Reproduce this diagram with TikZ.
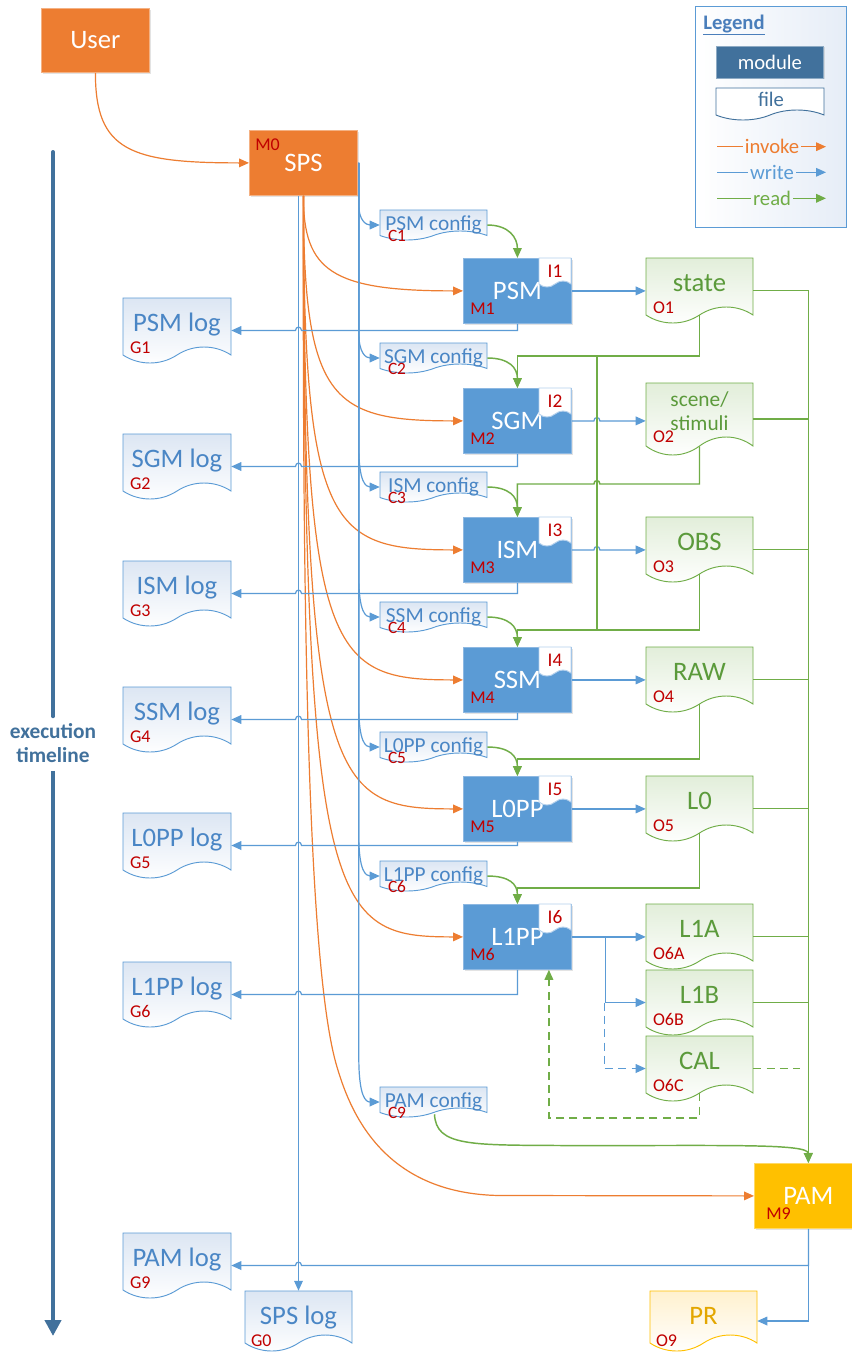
\documentclass[tikz,border=0pt]{standalone}
\usepackage{fontspec}
\setmainfont{Carlito}
\usetikzlibrary{arrows.meta,calc,fit,shadows}
\definecolor{cOrange}{HTML}{ED7D31}
\definecolor{cBlue}{HTML}{5B9BD5}
\definecolor{cBlueB}{HTML}{8DB8E2}
\definecolor{cDark}{HTML}{41719C}
\definecolor{cGreen}{HTML}{70AD47}
\definecolor{cGreenTxt}{HTML}{5B9A3B}
\definecolor{cLogTxt}{HTML}{4A86C5}
\definecolor{cRed}{HTML}{C00000}
\definecolor{cGold}{HTML}{FFC000}
\definecolor{cGoldTxt}{HTML}{E3A600}
\definecolor{cTintB}{HTML}{DCE6F3}
\definecolor{cTintG}{HTML}{E2EEDA}
\definecolor{cTintY}{HTML}{FFF1CF}
\definecolor{cLegBg}{HTML}{E6EDF7}
\definecolor{cTagB}{HTML}{B4D0EC}
\definecolor{cLegTxt}{HTML}{4A7EBB}

% #1 name, #2 x0, #3 y0, #4 w, #5 h, #6 wave amplitude, #7 tint, #8 border
\newcommand\docnode[8]{%
  \shadedraw[top color=#7, bottom color=white, draw=#8, line width=0.7pt]
   (#2,#3) -- ({#2+#4},#3) -- ({#2+#4},{#3+#5-#6})
   .. controls ({#2+0.85*#4},{#3+#5-2.333*#6}) and ({#2+0.65*#4},{#3+#5-2.333*#6}) .. ({#2+0.5*#4},{#3+#5-#6})
   .. controls ({#2+0.35*#4},{#3+#5+0.333*#6}) and ({#2+0.15*#4},{#3+#5+0.333*#6}) .. (#2,{#3+#5-#6}) -- cycle;
  \node[fit={(#2,#3) ({#2+#4},{#3+#5})}, inner sep=0pt] (#1) {};}

\begin{document}
\begin{tikzpicture}[x=0.75pt,y=-0.75pt,
  >={Triangle[length=7.5pt,width=6.5pt]},
  modbox/.style={rectangle, fill=cBlue, draw=cBlueB, line width=0.6pt, text=white,
    font=\fontsize{20}{24}\selectfont, minimum width=81pt, minimum height=48.75pt,
    inner sep=0pt, anchor=north west,
    drop shadow={opacity=0.22, shadow xshift=0.9pt, shadow yshift=-0.9pt}},
  redlbl/.style={text=cRed, font=\fontsize{13.5}{15}\selectfont, inner sep=0pt},
  clbl/.style={text=cRed, font=\fontsize{13}{15}\selectfont, inner sep=0pt},
  taglbl/.style={text=cRed, font=\fontsize{14.5}{16}\selectfont, inner sep=0pt},
  logtxt/.style={text=cLogTxt, font=\fontsize{20}{24}\selectfont, inner sep=0pt, anchor=base},
  cfgtxt/.style={text=cLogTxt, font=\fontsize{16}{19}\selectfont, inner sep=0pt, anchor=base},
  outtxt/.style={text=cGreenTxt, font=\fontsize{20}{24}\selectfont, inner sep=0pt, anchor=base},
  legtxt/.style={font=\fontsize{15.5}{18}\selectfont, inner sep=1.5pt},
  invk/.style={draw=cOrange, line width=0.9pt, ->},
  wrt/.style={draw=cBlue, line width=0.9pt, ->},
  rd/.style={draw=cGreen, line width=1.1pt, ->},
  dsh/.style={dash pattern=on 6pt off 4pt}
]
\useasboundingbox (0,0) rectangle (852,1356);
\fill[white] (0,0) rectangle (852,1356);

% ---------- legend ----------
\node[draw=cBlue, line width=0.8pt, left color=white, right color=cLegBg,
  minimum width=113.25pt, minimum height=165.75pt, anchor=north west, inner sep=0pt] (legend) at (695,6) {};
\node[text=cLegTxt, font=\bfseries\fontsize{15.5}{18}\selectfont, anchor=base, inner sep=0pt] (legtitle) at (734,29.3) {\underline{Legend}};
\node[rectangle, fill=cDark, draw=cDark!60!white, line width=0.6pt, text=white, font=\fontsize{15.5}{18}\selectfont,
  minimum width=80.25pt, minimum height=24pt, anchor=north west, inner sep=0pt,
  drop shadow={opacity=0.22, shadow xshift=0.9pt, shadow yshift=-0.9pt}] (legmod) at (716,45.5) {module};
\docnode{legfile}{716}{88}{108}{32}{5}{white}{cDark}
\node[text=cDark, font=\fontsize{15.5}{18}\selectfont, anchor=base, inner sep=0pt] at (771,106) {file};
\node[legtxt, text=cOrange] (linv) at (772,146.7) {invoke};
\node[legtxt, text=cBlue] (lwrt) at (772,172.3) {write};
\node[legtxt, text=cGreen] (lrd) at (772,198.3) {read};
\coordinate (li0) at (717,146.7); \coordinate (li1) at (826,146.7);
\coordinate (lw0) at (717,172.3); \coordinate (lw1) at (826,172.3);
\coordinate (lr0) at (717,198.3); \coordinate (lr1) at (826,198.3);
\draw[invk,-] (li0) -- (linv.west); \draw[invk] (linv.east) -- (li1);
\draw[wrt,-] (lw0) -- (lwrt.west); \draw[wrt] (lwrt.east) -- (lw1);
\draw[rd,-] (lr0) -- (lrd.west); \draw[rd] (lrd.east) -- (lr1);

% ---------- timeline ----------
\node[font=\bfseries\fontsize{16}{18}\selectfont, text=cDark, align=center, inner sep=0pt, minimum height=40.5pt] (tl) at (53,743.5) {execution\\timeline};
\coordinate (tltop) at (53,152); \coordinate (tlbot) at (53,1336);
\draw[cDark, line width=3pt, line cap=round] (tltop) -- (tl.north);
\draw[cDark, line width=3pt, -{Triangle[length=12pt,width=12pt]}] (tl.south) -- (tlbot);

% ---------- User, SPS, PAM ----------
\node[modbox, fill=cOrange, draw=cOrange!60!white, minimum height=48pt] (User) at (41,8) {User};
\node[modbox, fill=cOrange, draw=cOrange!60!white] (SPS) at (249,130) {SPS};
\node[redlbl, anchor=base west] at ($(SPS.north west)+(6,20)$) {M0};
\node[modbox, fill=cGold, draw=cGold!60!white] (PAM) at (754,1163) {PAM};
\node[redlbl, anchor=base west] at ($(PAM.north west)+(12,56)$) {M9};

% ---------- modules ----------
\foreach \n/\nm/\y in {1/PSM/258,2/SGM/388,3/ISM/517,4/SSM/647,5/L0PP/776,6/L1PP/904}{
  \node[modbox] (M\n) at (463,\y) {\nm};
  \node[redlbl, anchor=base west] at ($(M\n.north west)+(7,56)$) {M\n};
  \docnode{I\n}{539}{\y}{32}{29}{3}{white}{cTagB}
  \node[taglbl, anchor=base] at ($(I\n.north)+(0,19.7)$) {I\n};
}

% ---------- configs ----------
\foreach \n/\nm/\y in {1/PSM/210,2/SGM/343,3/ISM/472,4/SSM/602,5/L0PP/732,6/L1PP/861,9/PAM/1087}{
  \docnode{C\n}{380}{\y}{107}{30}{4.5}{cTintB}{cBlue}
  \node[cfgtxt] at ($(C\n.north)+(0,21.2)$) {\nm\ config};
  \node[clbl, anchor=base west] at ($(C\n.north west)+(8,32)$) {C\n};
}

% ---------- logs ----------
\foreach \n/\nm/\y in {1/PSM/298,2/SGM/434,3/ISM/561,4/SSM/687,5/L0PP/813,6/L1PP/962,9/PAM/1233}{
  \docnode{G\n}{123}{\y}{108}{65}{8}{cTintB}{cBlue}
  \node[logtxt] at ($(G\n.north)+(0,34)$) {\nm\ log};
  \node[redlbl, anchor=base west] at ($(G\n.north west)+(7,56)$) {G\n};
}
\docnode{G0}{245}{1291}{107}{60}{8}{cTintB}{cBlue}
\node[logtxt] at ($(G0.north)+(0,34)$) {SPS log};
\node[redlbl, anchor=base west] at ($(G0.north west)+(6,55.7)$) {G0};

% ---------- outputs ----------
\foreach \n/\nm/\y in {1/state/258,3/OBS/517,4/RAW/647,5/L0/776,6A/L1A/904,6B/L1B/970,6C/CAL/1036}{
  \docnode{O\n}{646}{\y}{107}{65}{8}{cTintG}{cGreen}
  \node[outtxt] at ($(O\n.north)+(0,34)$) {\nm};
  \node[redlbl, anchor=base west] at ($(O\n.north west)+(7,55.5)$) {O\n};
}
\docnode{O2}{646}{383}{107}{72}{9}{cTintG}{cGreen}
\node[outtxt, font=\fontsize{16}{19}\selectfont] at ($(O2.north)+(0,23.7)$) {scene/};
\node[outtxt, font=\fontsize{16}{19}\selectfont] at ($(O2.north)+(0,47.7)$) {stimuli};
\node[redlbl, anchor=base west] at ($(O2.north west)+(7,59.7)$) {O2};
\docnode{O9}{650}{1291}{107}{60}{8}{cTintY}{cGold}
\node[logtxt, text=cGoldTxt] at ($(O9.north)+(0,34)$) {PR};
\node[redlbl, anchor=base west] at ($(O9.north west)+(6,55.7)$) {O9};

% ---------- invoke connectors ----------
\draw[invk] (User.south) .. controls ($(User.south)+(0,78)$) and ($(SPS.west)+(-119,0)$) .. (SPS.west);
\foreach \n in {1,...,6}{
  \draw[invk] (SPS.south) .. controls ($(SPS.south |- M\n.west)+(0,-20)$) and ($(SPS.south |- M\n.west)+(28,0)$) .. (M\n.west);
}
\draw[invk] (SPS.south) .. controls (302.5,600) and (307,967) .. (337,1067)
   .. controls (349,1107) and (380,1194) .. (500,1195.5) -- (PAM.west);

% ---------- write connectors ----------
\foreach \cc/\dd in {C1/20,C2/25,C3/40,C4/40,C5/40,C6/40,C9/45}{
  \draw[wrt] ($(SPS.east)+(1,0)$) -- ($(SPS.east |- \cc.west)+(1,-\dd)$)
    .. controls ($(SPS.east |- \cc.west)+(1,-5)$) and ($(SPS.east |- \cc.west)+(8,0)$) .. (\cc.west);
}
\draw[wrt] (G0.north |- SPS.south) -- (G0.north);
\foreach \n in {1,...,6}{
  \draw[wrt] (M\n.south) |- ($(G0.north |- G\n.east)+(3,0)$)
    .. controls +(0,-4.5) and +(0,-4.5) .. ($(G0.north |- G\n.east)+(-3,0)$) -- (G\n.east);
}
\draw[wrt] (PAM.south) |- ($(G0.north |- G9.east)+(3,0)$)
    .. controls +(0,-4.5) and +(0,-4.5) .. ($(G0.north |- G9.east)+(-3,0)$) -- (G9.east);
\draw[wrt] (PAM.south) |- (O9.east);

\coordinate (sj) at ($(M2.north)+(79.5,-32)$);
\draw[wrt] (M1.east) -- (O1.west |- M1.east);
\draw[wrt] (M2.east) -- ($(sj |- M2.east)+(-3,0)$) .. controls +(0,-4.5) and +(0,-4.5) .. ($(sj |- M2.east)+(3,0)$) -- (O2.west |- M2.east);
\draw[wrt] (M3.east) -- ($(sj |- M3.east)+(-3,0)$) .. controls +(0,-4.5) and +(0,-4.5) .. ($(sj |- M3.east)+(3,0)$) -- (O3.west |- M3.east);
\draw[wrt] (M4.east) -- (O4.west |- M4.east);
\draw[wrt] (M5.east) -- (O5.west |- M5.east);
\draw[wrt] (M6.east) -- (O6A.west |- M6.east);
\draw[wrt] ($(M6.east)+(33.5,0)$) |- (O6B.west);
\draw[wrt,dsh] ($(O6B.west)+(-41.5,0)$) |- (O6C.west);

% ---------- read connectors ----------
\foreach \n in {1,...,6}{
  \draw[rd] (C\n.east) .. controls +(22,0) and +(0,-20) .. (M\n.north);
}
\draw[rd] ($(O1.south)+(0,-8)$) |- ($(M2.north)+(0,-32)$) -- (M2.north);
\draw[rd,-] (sj) -- ($(sj |- M4.north)+(0,-17)$);
\draw[rd] ($(O2.south)+(0,-9)$) |- ($(sj |- M3.north)+(3,-33)$)
   .. controls +(0,-4.5) and +(0,-4.5) .. ($(sj |- M3.north)+(-3,-33)$) -| (M3.north);
\draw[rd] ($(O3.south)+(0,-8)$) |- ($(M4.north)+(0,-17)$) -- (M4.north);
\draw[rd] ($(O4.south)+(0,-8)$) |- ($(M5.north)+(0,-17)$) -- (M5.north);
\draw[rd] ($(O5.south)+(0,-8)$) |- ($(M6.north)+(0,-16)$) -- (M6.north);
\draw[rd,dsh] ($(O6C.south)+(0,-8)$) |- ($(M6.south)+(31.5,148)$) -- ($(M6.south)+(31.5,0)$);
\draw[rd] ($(C9.south)+(1,-3)$) .. controls (436,1146) and (470,1145) .. (560,1145.5)
   .. controls (720,1146) and (808,1143) .. (PAM.north);
\draw[rd] (O1.east) -- (PAM.north |- O1.east) -- (PAM.north);
\foreach \o in {O2,O3,O4,O5,O6A,O6B}{
  \draw[rd,-] (\o.east) -- (PAM.north |- \o.east);
}
\draw[rd,-,dsh] (O6C.east) -- ($(PAM.north |- O6C.east)+(-8,0)$);
\end{tikzpicture}
\end{document}
